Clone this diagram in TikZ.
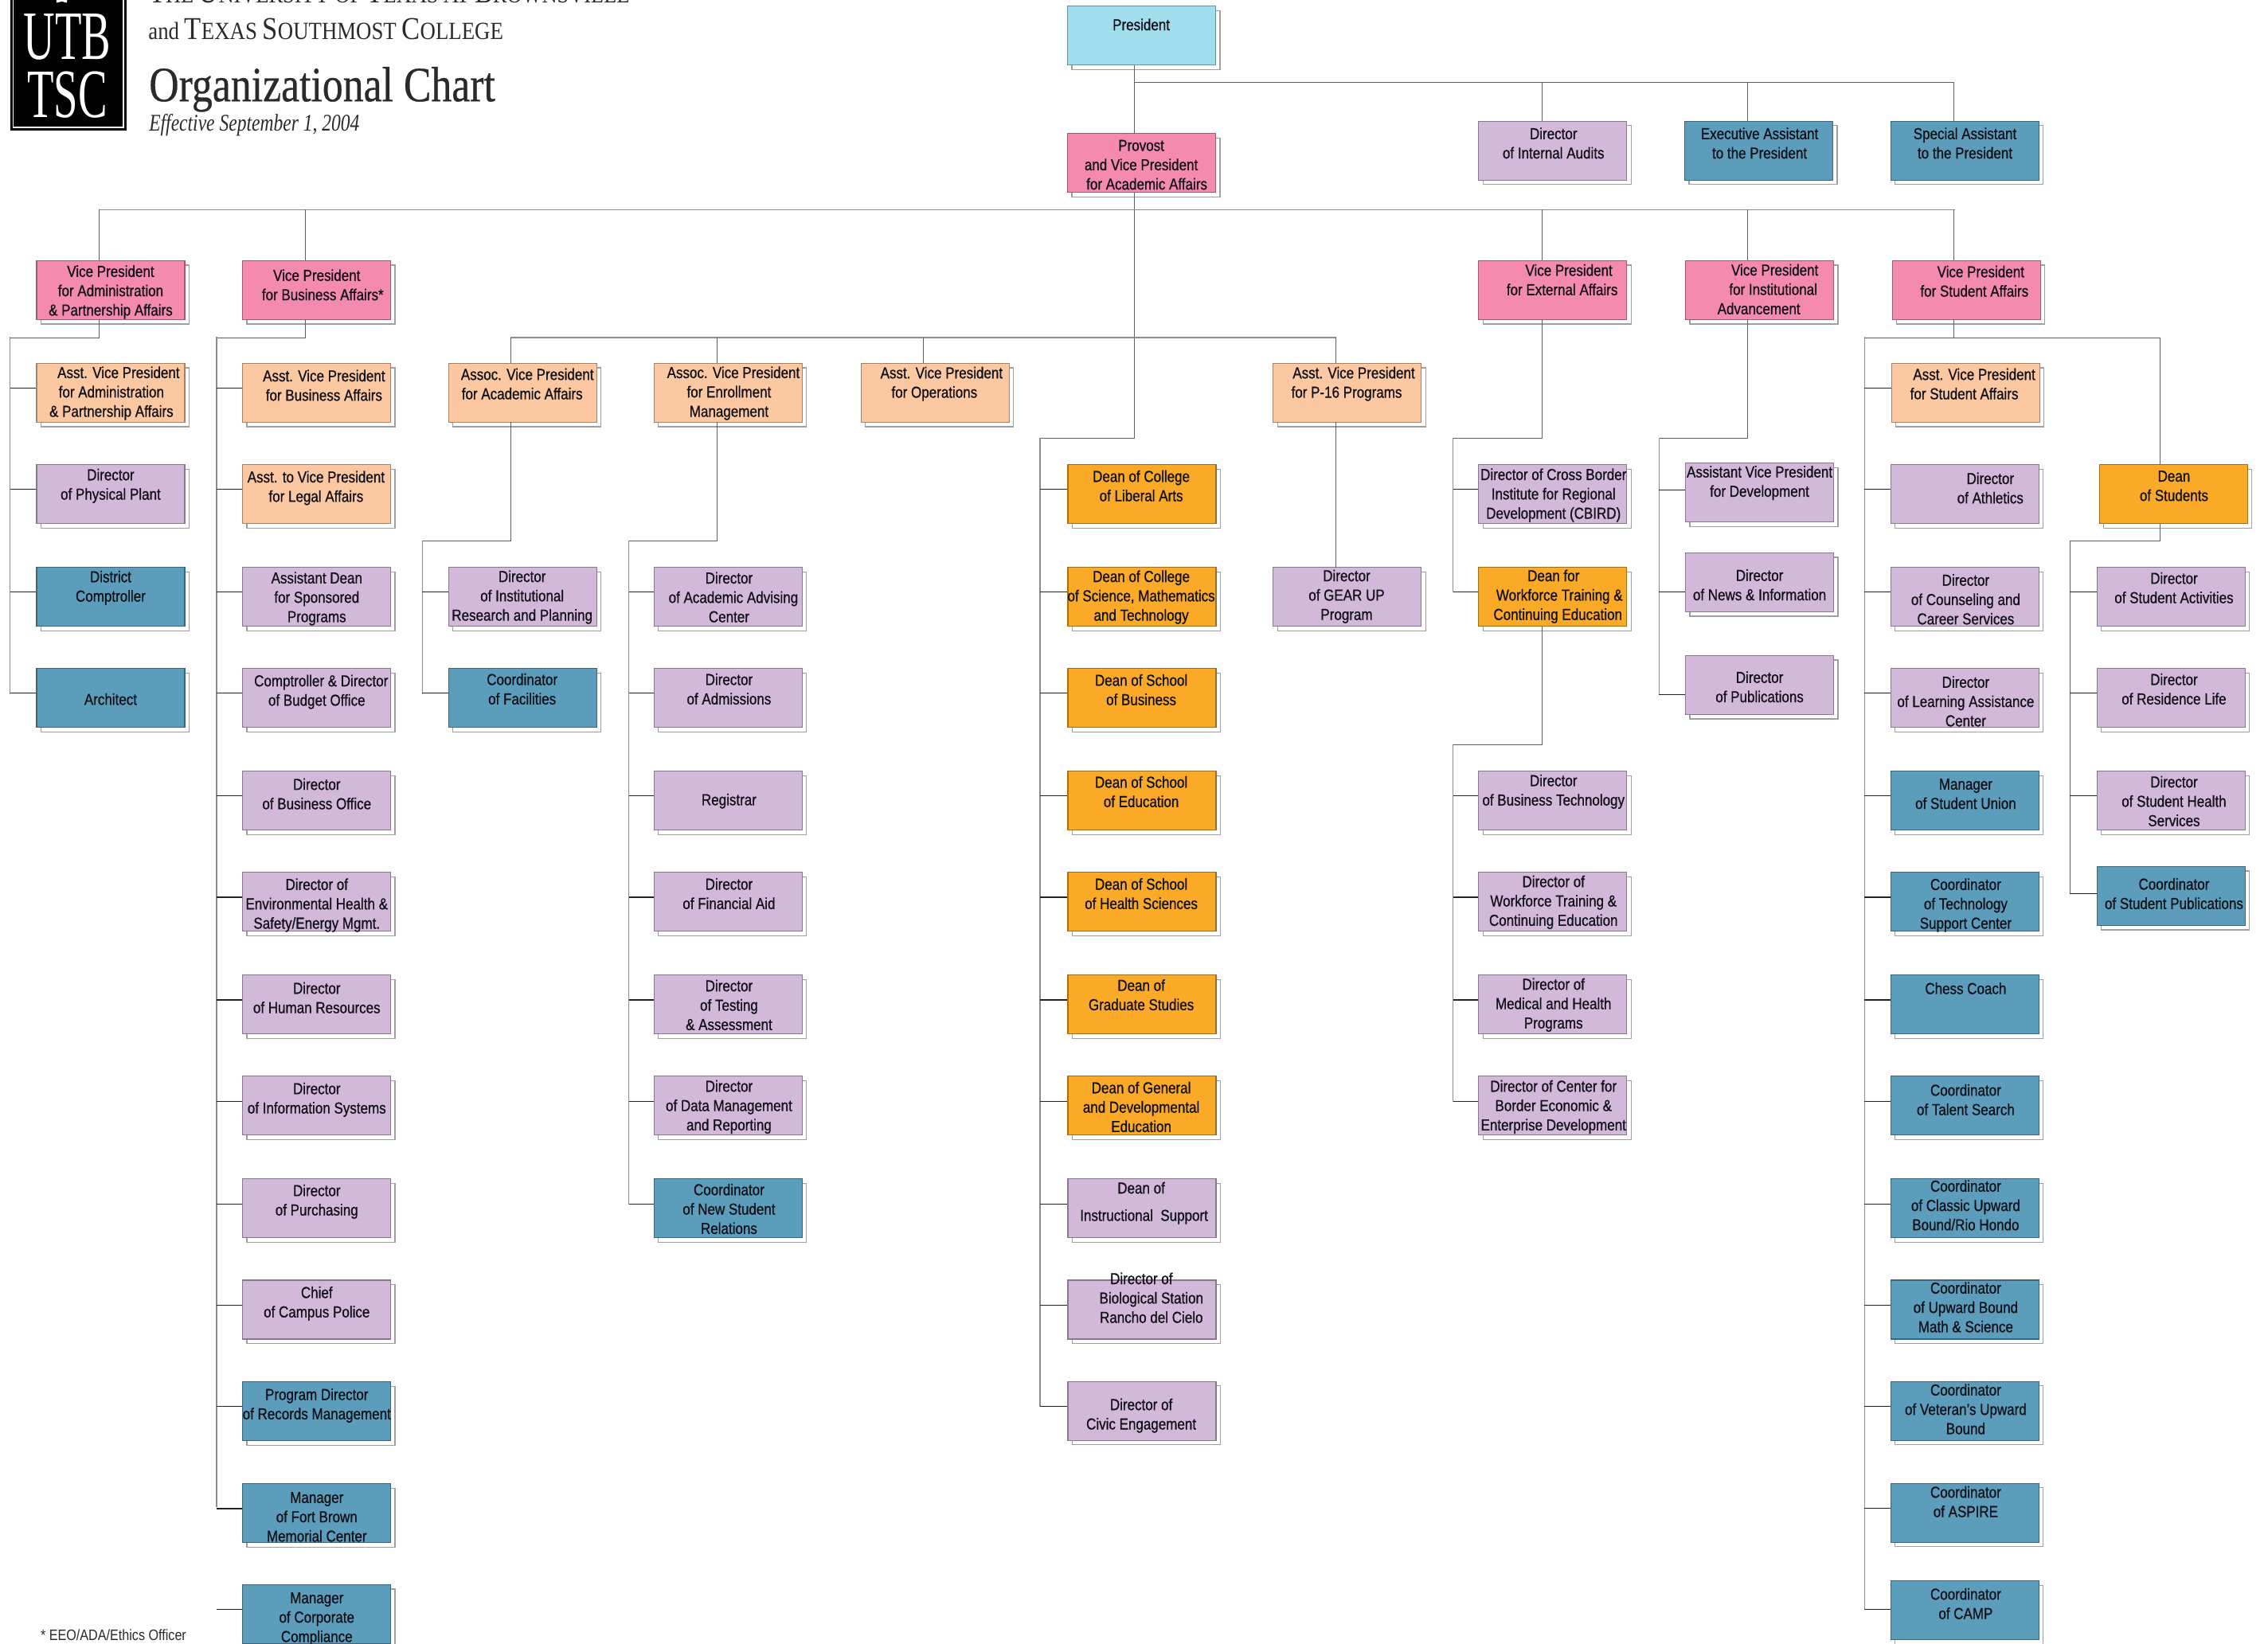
\documentclass[tikz,border=0pt]{standalone}
\usepackage{fontspec}
\usetikzlibrary{shapes.geometric}
\setmainfont[FakeStretch=0.85,FakeBold=0.7]{Liberation Sans}
\newfontfamily\notefont[FakeStretch=0.85]{Liberation Sans}
\newfontfamily\hdfont{Liberation Serif}
\newfontfamily\titlefont[FakeBold=0.5]{Liberation Serif}
\definecolor{cpink}{HTML}{F48AAD}
\definecolor{cpeach}{HTML}{FBC8A2}
\definecolor{cpurple}{HTML}{D3B9D9}
\definecolor{cblue}{HTML}{5B9DBB}
\definecolor{corange}{HTML}{FBAA27}
\definecolor{csky}{HTML}{A0DDED}
\definecolor{cline}{HTML}{5F5F5F}
\definecolor{cbus}{HTML}{8C8C8C}
\definecolor{ctick}{HTML}{222222}
\definecolor{ctext}{HTML}{101018}
\definecolor{chead}{HTML}{2A2A2A}
\tikzset{
  shbox/.style={draw=black!38,line width=1.3pt,fill=white,minimum width=186pt,minimum height=74pt,inner sep=0pt,anchor=north west,xshift=5.2pt,yshift=-5.5pt},
  mainbox/.style={line width=1.1pt,minimum width=186pt,minimum height=74pt,inner sep=0pt,anchor=north west},
  lab/.style={inner sep=0pt,align=center,text=ctext,font=\fontsize{20}{24.3}\selectfont,anchor=center},
  conn/.style={draw=cline,line width=1.1pt,line cap=rect},
  busline/.style={draw=cbus,line width=1.4pt,line cap=rect},
  tickline/.style={draw=ctick,line width=1.1pt},
  hd/.style={inner sep=0pt,anchor=base west,text=chead}
}
% name, x, y, colour, text cx, text cy, text
\newcommand\bx[7]{%
  \node[shbox] (#1S) at (#2,#3) {};
  \node[mainbox,fill=#4,draw=#4!65!black] (#1) at (#2,#3) {};
  \node[lab] (#1T) at (#5,#6) {#7};
}
\newcommand\Sh[1]{\hspace*{#1pt}}
% bus, box
\newcommand\tk[2]{\path (#2.north west) ++(0,17.5) coordinate (tkp); \draw[tickline] (tkp) -- (tkp -| #1);}
\begin{document}
\begin{tikzpicture}[x=1.8163pt,y=-1.8163pt]
\useasboundingbox (0,0) rectangle (1568,1136.38);
\clip (0,0) rectangle (1568,1136.38);
% header
\node[draw=none,fill=black,minimum width=146pt,minimum height=170pt,inner sep=0pt,anchor=south west] (logo) at (7,90.5) {};
\draw[white,line width=1.6pt] (9,-5) -- (9,88) -- (85.3,88) -- (85.3,-5);
\node[star,star points=5,fill=white,minimum size=22pt,inner sep=0pt] (logostar) at (42.7,-3) {};
\node[inner sep=0pt,text=white] (utb) at (46.5,25.5) {\hdfont\fontsize{87}{87}\selectfont\scalebox{0.63}[1]{UTB}};
\node[inner sep=0pt,text=white] (tsc) at (46.5,65.5) {\hdfont\fontsize{87}{87}\selectfont\scalebox{0.63}[1]{TSC}};
\node[hd] (h1) at (103,2) {\hdfont\scalebox{0.852}[1]{\fontsize{40}{40}\selectfont T\fontsize{31}{31}\selectfont HE \fontsize{40}{40}\selectfont U\fontsize{31}{31}\selectfont NIVERSITY OF \fontsize{40}{40}\selectfont T\fontsize{31}{31}\selectfont EXAS AT \fontsize{40}{40}\selectfont B\fontsize{31}{31}\selectfont ROWNSVILLE}};
\node[hd] (h2) at (102.5,27.5) {\hdfont\scalebox{0.865}[1]{\fontsize{31}{31}\selectfont and \fontsize{40}{40}\selectfont T\fontsize{31}{31}\selectfont EXAS \fontsize{40}{40}\selectfont S\fontsize{31}{31}\selectfont OUTHMOST \fontsize{40}{40}\selectfont C\fontsize{31}{31}\selectfont OLLEGE}};
\node[hd] (h3) at (103,70) {\titlefont\fontsize{62}{62}\selectfont\scalebox{0.835}[1]{Organizational Chart}};
\node[hd] (h4) at (103,90.5) {\hdfont\itshape\fontsize{30}{30}\selectfont\scalebox{0.785}[1]{Effective September 1, 2004}};
\node[inner sep=0pt,anchor=west,text=chead] (note) at (28,1130.5) {\notefont\fontsize{19}{20}\selectfont * EEO/ADA/Ethics Officer};
% top
\bx{president}{737.8}{3.9}{csky}{789}{17}{President}
\bx{provost}{737.8}{92}{cpink}{789}{114}{Provost\\and Vice President\\\Sh{14}for Academic Affairs}
\bx{audits}{1022}{83.5}{cpurple}{1074}{99}{Director\\of Internal Audits}
\bx{execasst}{1164.5}{83.5}{cblue}{1216.5}{99}{Executive Assistant\\to the President}
\bx{specasst}{1307}{83.5}{cblue}{1358.5}{99}{Special Assistant\\to the President}
% column 1
\bx{vpadmin}{25}{180}{cpink}{76.5}{202}{Vice President\\for Administration\\\& Partnership Affairs}
\bx{avpadmin}{25}{251}{cpeach}{77}{272}{\Sh{18}Asst. Vice President\\for Administration\\\& Partnership Affairs}
\bx{physplant}{25}{321}{cpurple}{76.5}{336}{Director\\of Physical Plant}
\bx{comptroller}{25}{392}{cblue}{76.5}{406.5}{District\\Comptroller}
\bx{architect}{25}{462}{cblue}{76.5}{483.5}{Architect}
% column 2
\bx{vpbus}{167.5}{180}{cpink}{219}{197}{Vice President\\\Sh{15}for Business Affairs*}
\bx{avpbus}{167.5}{251}{cpeach}{224}{266.5}{Asst. Vice President\\for Business Affairs}
\bx{legal}{167.5}{321}{cpeach}{218.5}{337.5}{Asst. to Vice President\\for Legal Affairs}
\bx{sponsored}{167.5}{392}{cpurple}{219}{414}{Assistant Dean\\for Sponsored\\Programs}
\bx{budget}{167.5}{462}{cpurple}{219}{478.5}{\Sh{11}Comptroller \& Director\\of Budget Office}
\bx{busoffice}{167.5}{533}{cpurple}{219}{549}{Director\\of Business Office}
\bx{envhealth}{167.5}{603}{cpurple}{219}{626}{Director of\\Environmental Health \&\\Safety/Energy Mgmt.}
\bx{hr}{167.5}{674}{cpurple}{219}{690}{Director\\of Human Resources}
\bx{infosys}{167.5}{744}{cpurple}{219}{760.5}{Director\\of Information Systems}
\bx{purchasing}{167.5}{815}{cpurple}{219}{831}{Director\\of Purchasing}
\bx{police}{167.5}{885}{cpurple}{219}{901.5}{Chief\\of Campus Police}
\bx{records}{167.5}{955.3}{cblue}{219}{972}{Program Director\\of Records Management}
\bx{fortbrown}{167.5}{1025.8}{cblue}{219}{1049}{Manager\\of Fort Brown\\Memorial Center}
\bx{corporate}{167.5}{1095.6}{cblue}{219}{1119.5}{Manager\\of Corporate\\Compliance}
% column 3
\bx{assocacad}{309.8}{251}{cpeach}{361}{265.5}{\Sh{13}Assoc. Vice President\\for Academic Affairs}
\bx{instres}{309.8}{392}{cpurple}{361}{413}{Director\\of Institutional\\Research and Planning}
\bx{facilities}{309.8}{462}{cblue}{361}{476.5}{Coordinator\\of Facilities}
% column 4
\bx{assocenroll}{452}{251}{cpeach}{504}{272}{\Sh{11}Assoc. Vice President\\for Enrollment\\Management}
\bx{advising}{452}{392}{cpurple}{504}{413}{Director\\\Sh{11}of Academic Advising\\Center}
\bx{admissions}{452}{462}{cpurple}{504}{476.5}{Director\\of Admissions}
\bx{registrar}{452}{533}{cpurple}{504}{554}{Registrar}
\bx{finaid}{452}{603}{cpurple}{504}{618}{Director\\of Financial Aid}
\bx{testing}{452}{674}{cpurple}{504}{695}{Director\\of Testing\\\& Assessment}
\bx{datamgmt}{452}{744}{cpurple}{504}{765.5}{Director\\of Data Management\\and Reporting}
\bx{newstudent}{452}{815}{cblue}{504}{836}{Coordinator\\of New Student\\Relations}
% column 5
\bx{operations}{595}{251}{cpeach}{646}{265.5}{\Sh{18}Asst. Vice President\\for Operations}
% column 6
\bx{liberal}{738}{321}{corange}{789}{336}{Dean of College\\of Liberal Arts}
\bx{science}{738}{392}{corange}{789}{413}{Dean of College\\of Science, Mathematics\\and Technology}
\bx{business}{738}{462}{corange}{789}{477}{Dean of School\\of Business}
\bx{education}{738}{533}{corange}{789}{547.5}{Dean of School\\of Education}
\bx{health}{738}{603}{corange}{789}{618}{Dean of School\\of Health Sciences}
\bx{graduate}{738}{674}{corange}{789}{688}{Dean of\\Graduate Studies}
\bx{general}{738}{744}{corange}{789}{765.5}{Dean of General\\and Developmental\\Education}
\bx{instructional}{738}{815}{cpurple}{789}{832}{Dean of\\[10pt]\Sh{7}Instructional\ \ Support}
\bx{biostation}{738}{885}{cpurple}{796}{897.5}{Director of\Sh{25}\\Biological Station\\Rancho del Cielo}
\bx{civic}{738}{955}{cpurple}{789}{979}{Director of\\Civic Engagement}
% column 7
\bx{psixteen}{880}{251}{cpeach}{931}{265.5}{\Sh{18}Asst. Vice President\\for P-16 Programs}
\bx{gearup}{880}{392}{cpurple}{931}{412.5}{Director\\of GEAR UP\\Program}
% column 8
\bx{vpext}{1022}{180}{cpink}{1080}{193.5}{\Sh{17}Vice President\\for External Affairs}
\bx{cbird}{1022}{321}{cpurple}{1074}{342.5}{Director of Cross Border\\Institute for Regional\\Development (CBIRD)}
\bx{workdean}{1022}{392}{corange}{1074}{412.5}{Dean for\\\Sh{15}Workforce Training \&\\\Sh{11}Continuing Education}
\bx{bustech}{1022}{533}{cpurple}{1074}{547.5}{Director\\of Business Technology}
\bx{workdir}{1022}{603}{cpurple}{1074}{624}{Director of\\Workforce Training \&\\Continuing Education}
\bx{medical}{1022}{674}{cpurple}{1074}{695}{Director of\\Medical and Health\\Programs}
\bx{border}{1022}{744}{cpurple}{1074}{765.5}{Director of Center for\\Border Economic \&\\Enterprise Development}
% column 9
\bx{vpinst}{1165}{180}{cpink}{1216}{200}{\Sh{40}Vice President\\\Sh{36}for Institutional\\Advancement}
\bx{development}{1165}{320}{cpurple}{1216.5}{334}{Assistant Vice President\\for Development}
\bx{news}{1165}{382}{cpurple}{1216.5}{404.5}{Director\\of News \& Information}
\bx{publications}{1165}{453}{cpurple}{1216.5}{475}{Director\\of Publications}
% column 10
\bx{vpstudent}{1308}{180}{cpink}{1365}{194.5}{\Sh{16}Vice President\\for Student Affairs}
\bx{avpstudent}{1307.3}{251}{cpeach}{1358}{265.5}{\Sh{25}Asst. Vice President\\for Student Affairs}
\bx{athletics}{1307}{321}{cpurple}{1376}{337.5}{Director\\of Athletics}
\bx{counseling}{1307}{392}{cpurple}{1359}{414.5}{Director\\of Counseling and\\Career Services}
\bx{learning}{1307}{462}{cpurple}{1359}{485}{Director\\of Learning Assistance\\Center}
\bx{union}{1307}{533}{cblue}{1359}{549}{Manager\\of Student Union}
\bx{techsupport}{1307}{603}{cblue}{1359}{626}{Coordinator\\of Technology\\Support Center}
\bx{chess}{1307}{674}{cblue}{1359}{683.5}{Chess Coach}
\bx{talent}{1307}{744}{cblue}{1359}{760.5}{Coordinator\\of Talent Search}
\bx{classic}{1307}{815}{cblue}{1359}{833.5}{Coordinator\\of Classic Upward\\Bound/Rio Hondo}
\bx{upward}{1307}{885}{cblue}{1359}{904}{Coordinator\\of Upward Bound\\Math \& Science}
\bx{veteran}{1307}{955}{cblue}{1359}{974.5}{Coordinator\\of Veteran's Upward\\Bound}
\bx{aspire}{1307}{1025.5}{cblue}{1359}{1038.5}{Coordinator\\of ASPIRE}
\bx{camp}{1307}{1093}{cblue}{1359}{1109}{Coordinator\\of CAMP}
% column 11
\bx{deanstudents}{1451}{321}{corange}{1503}{336}{Dean\\of Students}
\bx{activities}{1449.5}{392}{cpurple}{1503}{406.5}{Director\\of Student Activities}
\bx{residence}{1449.5}{462}{cpurple}{1503}{476.5}{Director\\of Residence Life}
\bx{studhealth}{1449.5}{533}{cpurple}{1503}{554}{Director\\of Student Health\\Services}
\bx{studpub}{1449.5}{599}{cblue}{1503}{618}{Coordinator\\of Student Publications}
% named bus positions
\coordinate (xpres) at (784.3,57);
\coordinate (xaudit) at (1066,57);
\coordinate (xexec) at (1208.3,57);
\coordinate (xspec) at (1351,57);
\coordinate (hbar) at (68.5,145);
\coordinate (xvpb) at (211,145);
\coordinate (xvpst) at (1351,145);
\coordinate (mbar) at (353.4,233.5);
\coordinate (xenr) at (496,233.5);
\coordinate (xops) at (638.5,233.5);
\coordinate (xp16) at (923.6,233.5);
\coordinate (col1) at (7,233.5);
\coordinate (col2) at (149.7,233.5);
\coordinate (col3) at (292,374);
\coordinate (col4) at (434.7,374);
\coordinate (col6) at (719,303);
\coordinate (col8) at (1004.5,303);
\coordinate (col8b) at (1004.5,515);
\coordinate (col9) at (1147,303);
\coordinate (col10) at (1289,233.5);
\coordinate (xdean) at (1493.3,233.5);
\coordinate (col11) at (1431,374);
% president level
\draw[conn] (xpres |- president.south) -- (xpres |- provost.north);
\draw[conn] (xpres) -- (xspec) -- (xspec |- specasst.north);
\draw[conn] (xaudit) -- (xaudit |- audits.north);
\draw[conn] (xexec) -- (xexec |- execasst.north);
% provost level
\draw[conn] (xpres |- provost.south) -- (xpres |- col6) -- (col6);
\draw[busline] (hbar) -- (xvpst);
\draw[conn] (hbar) -- (hbar |- vpadmin.north);
\draw[conn] (xvpb) -- (xvpb |- vpbus.north);
\draw[conn] (xaudit |- hbar) -- (xaudit |- vpext.north);
\draw[conn] (xexec |- hbar) -- (xexec |- vpinst.north);
\draw[conn] (xvpst) -- (xvpst |- vpstudent.north);
\draw[busline] (mbar) -- (xp16);
\draw[conn] (mbar) -- (mbar |- assocacad.north);
\draw[conn] (xenr) -- (xenr |- assocenroll.north);
\draw[conn] (xops) -- (xops |- operations.north);
\draw[conn] (xp16) -- (xp16 |- psixteen.north);
% VP admin
\draw[conn] (hbar |- vpadmin.south) -- (hbar |- col1) -- (col1);
\draw[busline] (col1) -- (col1 |- architect.north west) -- ++(0,17.5);
\foreach \b in {avpadmin,physplant,comptroller,architect} {\tk{col1}{\b}}
% VP business
\draw[conn] (xvpb |- vpbus.south) -- (xvpb |- col2) -- (col2);
\draw[busline] (col2) -- (col2 |- fortbrown.north west) -- ++(0,16);
\foreach \b in {avpbus,legal,sponsored,budget,busoffice,envhealth,hr,infosys,purchasing,police,records,fortbrown,corporate} {\tk{col2}{\b}}
% assoc academic
\draw[conn] (mbar |- assocacad.south) -- (mbar |- col3) -- (col3);
\draw[busline] (col3) -- (col3 |- facilities.north west) -- ++(0,17.5);
\foreach \b in {instres,facilities} {\tk{col3}{\b}}
% assoc enrollment
\draw[conn] (xenr |- assocenroll.south) -- (xenr |- col4) -- (col4);
\draw[busline] (col4) -- (col4 |- newstudent.north west) -- ++(0,17.5);
\foreach \b in {advising,admissions,registrar,finaid,testing,datamgmt,newstudent} {\tk{col4}{\b}}
% deans
\draw[busline] (col6) -- (col6 |- civic.north west) -- ++(0,17.5);
\foreach \b in {liberal,science,business,education,health,graduate,general,instructional,biostation,civic} {\tk{col6}{\b}}
% p-16
\draw[conn] (xp16 |- psixteen.south) -- (xp16 |- gearup.north);
% external
\draw[conn] (xaudit |- vpext.south) -- (xaudit |- col8) -- (col8);
\draw[busline] (col8) -- (col8 |- workdean.north west) -- ++(0,17.5);
\foreach \b in {cbird,workdean} {\tk{col8}{\b}}
\draw[conn] (xaudit |- workdean.south) -- (xaudit |- col8b) -- (col8b);
\draw[busline] (col8b) -- (col8b |- border.north west) -- ++(0,17.5);
\foreach \b in {bustech,workdir,medical,border} {\tk{col8b}{\b}}
% institutional
\draw[conn] (xexec |- vpinst.south) -- (xexec |- col9) -- (col9);
\draw[busline] (col9) -- (col9 |- publications.north west) -- ++(0,27);
\path (development.north west) ++(0,19) coordinate (tkp); \draw[tickline] (tkp) -- (tkp -| col9);
\foreach \b in {news,publications} {\path (\b.north west) ++(0,27.5) coordinate (tkp); \draw[tickline] (tkp) -- (tkp -| col9);}
% student affairs
\draw[conn] (xspec |- vpstudent.south) -- (xspec |- col10);
\draw[conn] (col10) -- (xdean) -- (xdean |- deanstudents.north);
\draw[busline] (col10) -- (col10 |- camp.north west) -- ++(0,20);
\foreach \b in {avpstudent,athletics,counseling,learning,union,techsupport,chess,talent,classic,upward,veteran,aspire} {\tk{col10}{\b}}
\path (camp.north west) ++(0,20) coordinate (tkp); \draw[tickline] (tkp) -- (tkp -| col10);
\draw[conn] (xdean |- deanstudents.south) -- (xdean |- col11) -- (col11) -- (col11 |- studpub.north west) -- ++(0,19);
\foreach \b in {activities,residence,studhealth} {\tk{col11}{\b}}
\path (studpub.north west) ++(0,19) coordinate (tkp); \draw[tickline] (tkp) -- (tkp -| col11);
\end{tikzpicture}
\end{document}
